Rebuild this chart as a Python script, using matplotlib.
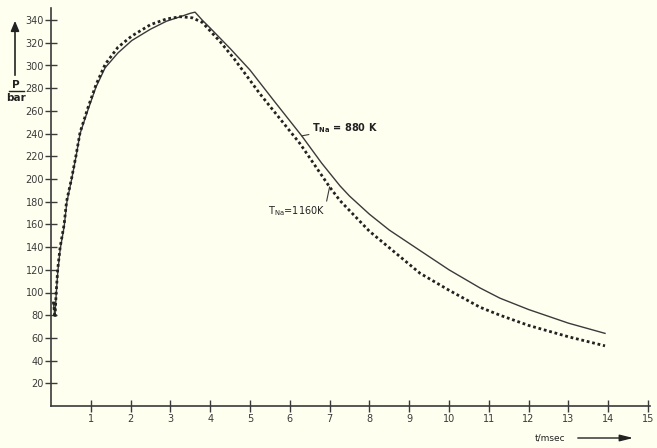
import matplotlib
matplotlib.use("Agg")
import matplotlib.pyplot as plt
from matplotlib.lines import Line2D

# ---- data ----
t_1160 = [0.06, 0.10, 0.13, 0.17, 0.23, 0.33, 0.39, 0.52, 0.63, 0.73, 0.93, 1.13,
          1.36, 1.68, 2.03, 2.50, 2.90, 3.25, 3.55, 3.80, 4.25, 4.60, 5.25, 6.26,
          7.00, 7.26, 8.00, 9.27, 10.00, 10.78, 11.28, 12.00, 13.00, 13.92]
p_1160 = [92, 78, 100, 121, 140, 160, 180, 201, 221, 241, 263, 283,
          301, 316, 326, 336, 341, 343, 342, 338, 321, 306, 275, 231,
          193, 181, 154, 117, 102, 87, 80, 71, 61, 53]

t_880 = [0.06, 0.10, 0.13, 0.17, 0.23, 0.33, 0.40, 0.52, 0.63, 0.73, 0.93, 1.13,
         1.36, 1.68, 2.03, 2.50, 2.90, 3.25, 3.50, 3.62, 3.80, 4.00, 4.50, 5.00,
         5.60, 6.30, 6.80, 7.26, 7.50, 8.00, 8.50, 9.27, 10.00, 10.78, 11.28,
         12.00, 13.00, 13.92]
p_880 = [90, 80, 98, 118, 138, 158, 180, 200, 220, 240, 261, 281,
         298, 311, 322, 332, 339, 343, 346, 347, 340, 333, 315, 296,
         269, 238, 214, 194, 185, 169, 155, 137, 120, 104, 95,
         85, 73, 64]

x_ticks = list(range(1, 16))
y_ticks = list(range(20, 341, 20))

W, H = 657, 448
bg = "#fffff0"
ink = "#3a3a3a"

fig = plt.figure(figsize=(W / 100, H / 100), dpi=100, facecolor=bg)
x0, x1 = 51, 650
y0, y1 = 406, 8
ax = fig.add_axes([x0 / W, 1 - y0 / H, (x1 - x0) / W, (y0 - y1) / H])
ax.set_facecolor(bg)
ax.set_xlim(0, (x1 - x0) / 39.8)
ax.set_ylim(0, (y0 - y1) / 1.135)

ax.plot(t_880, p_880, color=ink, lw=1.0)
ax.plot(t_1160, p_1160, color="#222222", lw=2.0, ls=(0, (1, 1)))

for s in ["top", "right"]:
    ax.spines[s].set_visible(False)
for s in ["left", "bottom"]:
    ax.spines[s].set_color(ink)
    ax.spines[s].set_linewidth(1.2)

ax.set_xticks(x_ticks)
ax.set_yticks(y_ticks)
ax.set_xticklabels([str(v) for v in x_ticks])
ax.set_yticklabels([str(v) for v in y_ticks])
ax.tick_params(axis="both", direction="inout", length=8, width=1.0,
               color=ink, labelcolor=ink, labelsize=7)
ax.tick_params(axis="x", pad=2)
ax.tick_params(axis="y", pad=1)

# annotations
ax.annotate(r"$\mathregular{T_{Na}}$ = 880 K", xy=(6.3, 238), xytext=(6.55, 245),
            fontsize=7, color="#222", fontweight="bold", va="center",
            arrowprops=dict(arrowstyle="-", color=ink, lw=0.8,
                            shrinkA=0, shrinkB=0))
ax.annotate(r"$\mathregular{T_{Na}}$=1160K", xy=(7.0, 193), xytext=(5.45, 172),
            fontsize=7, color="#222", va="center",
            arrowprops=dict(arrowstyle="-", color=ink, lw=0.8,
                            shrinkA=0, shrinkB=0, relpos=(1.0, 0.7)))

# y-axis label with arrow
fig.text(16 / W, 1 - 85 / H, "P", ha="center", va="center", fontsize=7.5,
         color="#222", fontweight="bold")
fig.add_artist(Line2D([9 / W, 24 / W], [1 - 91 / H, 1 - 91 / H],
                      color="#222", lw=1.0, transform=fig.transFigure))
fig.text(16 / W, 1 - 98 / H, "bar", ha="center", va="center", fontsize=7.5,
         color="#222", fontweight="bold")
fig.add_artist(matplotlib.patches.FancyArrowPatch(
    (15 / W, 1 - 78 / H), (15 / W, 1 - 18 / H), transform=fig.transFigure,
    arrowstyle="-|>,head_length=6,head_width=2.5", color="#222", lw=1.2))

# x-axis label with arrow
fig.text(550 / W, 1 - 438 / H, "t/msec", ha="center", va="center",
         fontsize=6.5, color="#222")
fig.add_artist(matplotlib.patches.FancyArrowPatch(
    (575 / W, 1 - 438 / H), (636 / W, 1 - 438 / H), transform=fig.transFigure,
    arrowstyle="-|>,head_length=8,head_width=2", color="#222", lw=1.0))

fig.savefig("out.png", dpi=100, facecolor=bg)
